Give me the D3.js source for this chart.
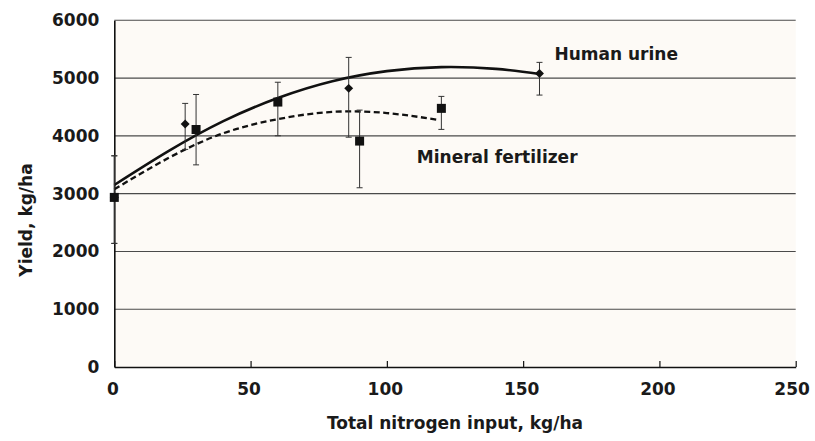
<!DOCTYPE html>
<html lang="en">
<head>
<meta charset="utf-8">
<script src="https://cdn.jsdelivr.net/npm/d3@7"></script>
<style>
  body { margin: 0; background: #fff; }
  text { font-family: "DejaVu Sans", sans-serif; font-weight: bold; fill: #1a1a1a; }
</style>
</head>
<body>
<svg id="chart"></svg>
<script>
const width = 815;
const height = 441;
const margin = { top: 20.3, right: 19.3, bottom: 74, left: 114.3 };

// field results: mean, error above, error below
const mineralX = [0, 30, 60, 90, 120];
const mineralY = [2935, 4110, 4585, 3910, 4476];
const mineralErrUp = [720, 606, 343, 536, 207];
const mineralErrDown = [796, 612, 583, 808, 364];

const urineX = [0, 26, 86, 156];
const urineY = [2935, 4204, 4822, 5081];
const urineErrUp = [720, 358, 536, 191];
const urineErrDown = [796, 438, 845, 375];

// trend lines
const urineTrendX = [0, 20, 40, 60, 80, 100, 120, 140, 156];
const urineTrendY = [3150, 3740, 4255, 4655, 4945, 5120, 5190, 5160, 5070];
const mineralTrendX = [0, 20, 40, 60, 80, 100, 119];
const mineralTrendY = [3075, 3620, 4045, 4290, 4415, 4395, 4275];

const xTicks = [0, 50, 100, 150, 200, 250];
const yTicks = [0, 1000, 2000, 3000, 4000, 5000, 6000];

const svg = d3.select('#chart')
    .attr('width', width)
    .attr('height', height);

const x = d3.scaleLinear().domain([0, 250]).range([margin.left, width - margin.right]);
const y = d3.scaleLinear().domain([0, 6000]).range([height - margin.bottom, margin.top]);

// plot background
svg.append('rect')
    .attr('x', x(0))
    .attr('y', y(6000))
    .attr('width', x(250) - x(0))
    .attr('height', y(0) - y(6000))
    .attr('fill', '#fdfaf6');

// horizontal grid
svg.append('g')
    .selectAll('line')
    .data(yTicks.filter(d => d > 0))
    .enter().append('line')
    .attr('x1', x(0))
    .attr('x2', x(250))
    .attr('y1', d => y(d))
    .attr('y2', d => y(d))
    .attr('stroke', '#4a4a4a')
    .attr('stroke-width', 1.1);

// axes
const xAxis = svg.append('g')
    .attr('transform', `translate(0,${y(0)})`)
    .call(d3.axisBottom(x).tickValues(xTicks).tickSizeInner(-6).tickSizeOuter(0).tickPadding(16));

const yAxis = svg.append('g')
    .attr('transform', `translate(${x(0)},0)`)
    .call(d3.axisLeft(y).tickValues(yTicks).tickFormat(d3.format('d')).tickSize(0).tickPadding(15));

[xAxis, yAxis].forEach(g => {
    g.attr('font-family', null).attr('font-size', null);
    g.select('.domain').attr('stroke', '#111').attr('stroke-width', 1.6);
    g.selectAll('.tick line').attr('stroke', '#111').attr('stroke-width', 1.2);
    g.selectAll('text').style('font-size', '17px').attr('fill', '#1a1a1a');
});
xAxis.selectAll('text').attr('dx', -2);
// keep the last x label inside the window
xAxis.selectAll('text').each(function () {
    const b = this.getBBox();
    const p = this.parentNode.transform.baseVal.consolidate().matrix.e;
    const over = p + b.x + b.width - (width - 5);
    if (over > 0) d3.select(this).attr('dx', -2 - over);
});

// trend lines
const line = d3.line().x(d => x(d[0])).y(d => y(d[1])).curve(d3.curveNatural);

svg.append('path')
    .datum(urineTrendX.map((v, i) => [v, urineTrendY[i]]))
    .attr('d', line)
    .attr('fill', 'none')
    .attr('stroke', '#111')
    .attr('stroke-width', 2.6);

svg.append('path')
    .datum(mineralTrendX.map((v, i) => [v, mineralTrendY[i]]))
    .attr('d', line)
    .attr('fill', 'none')
    .attr('stroke', '#111')
    .attr('stroke-width', 2.3)
    .attr('stroke-dasharray', '6,3.5');

// error bars
function drawErrors(xs, ys, up, down) {
    const g = svg.append('g').attr('stroke', '#333').attr('stroke-width', 1);
    xs.forEach((v, i) => {
        const cx = x(v), top = y(ys[i] + up[i]), bot = y(ys[i] - down[i]);
        g.append('line').attr('x1', cx).attr('x2', cx).attr('y1', top).attr('y2', bot);
        g.append('line').attr('x1', cx - 3).attr('x2', cx + 3).attr('y1', top).attr('y2', top);
        g.append('line').attr('x1', cx - 3).attr('x2', cx + 3).attr('y1', bot).attr('y2', bot);
    });
}
drawErrors(urineX, urineY, urineErrUp, urineErrDown);
drawErrors(mineralX, mineralY, mineralErrUp, mineralErrDown);

// markers
svg.append('g')
    .selectAll('path')
    .data(urineX.map((v, i) => [v, urineY[i]]))
    .enter().append('path')
    .attr('d', d3.symbol(d3.symbolSquare, 40))
    .attr('transform', d => `translate(${x(d[0])},${y(d[1])}) rotate(45)`)
    .attr('fill', '#111');

svg.append('g')
    .selectAll('rect')
    .data(mineralX.map((v, i) => [v, mineralY[i]]))
    .enter().append('rect')
    .attr('x', d => x(d[0]) - 4.5)
    .attr('y', d => y(d[1]) - 4.5)
    .attr('width', 9)
    .attr('height', 9)
    .attr('fill', '#111');

// series labels
svg.append('text')
    .attr('x', x(161.5))
    .attr('y', y(5310))
    .style('font-size', '17px')
    .text('Human urine');

svg.append('text')
    .attr('x', x(111))
    .attr('y', y(3530))
    .style('font-size', '17px')
    .text('Mineral fertilizer');

// axis titles
svg.append('text')
    .attr('x', (x(0) + x(250)) / 2)
    .attr('y', 429)
    .attr('text-anchor', 'middle')
    .style('font-size', '17px')
    .text('Total nitrogen input, kg/ha');

svg.append('text')
    .attr('transform', 'translate(32,220) rotate(-90)')
    .attr('text-anchor', 'middle')
    .style('font-size', '17px')
    .text('Yield, kg/ha');
</script>
</body>
</html>
